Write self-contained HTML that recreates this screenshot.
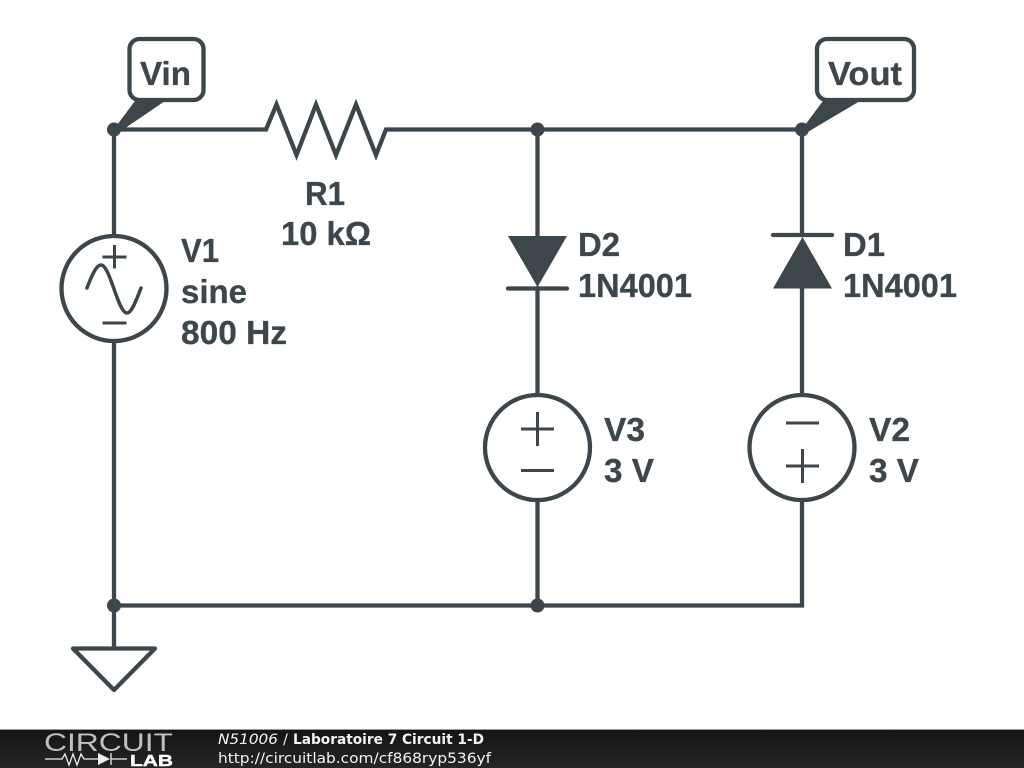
<!DOCTYPE html>
<html><head><meta charset="utf-8"><style>
html,body{margin:0;padding:0;background:#fff}
svg{display:block}
.t{font-family:"Liberation Sans",Arial,sans-serif;font-weight:bold;font-size:33px;fill:#3d464b;stroke:#3d464b;stroke-width:.3px}
.f{font-family:"DejaVu Sans",sans-serif;font-size:14.500px;fill:#f4f4f4}
</style></head><body>
<svg width="1024" height="768" viewBox="0 0 1024 768" xmlns="http://www.w3.org/2000/svg">
<defs><linearGradient id="g" x1="0" y1="0" x2="0" y2="1"><stop offset="0" stop-color="#141414"/><stop offset="1" stop-color="#262626"/></linearGradient></defs>
<rect width="1024" height="768" fill="#fff"/>
<g fill="none" stroke="#3d464b" stroke-width="4.300" stroke-linecap="round" stroke-linejoin="miter">
<path d="M114 129.500H266L276.500 104.500L296.500 155L316 104.500L336 155L356 104.500L376 155L386 129.500H802"/>
<path d="M114 129.500V234M114 343V647M114 605.500H802V502M537.500 605.500V502M537.500 393V288M537.500 129.500V236M802 129.500V235M802 288V393"/>
<circle cx="114" cy="288.500" r="52.500"/>
<circle cx="537.500" cy="447.500" r="52.500"/>
<circle cx="802" cy="447.500" r="52.500"/>
<path d="M508 288.500H567M773 235H832"/>
<path d="M73 648.500H155L114 690Z" stroke-linejoin="round"/>
<rect x="129.500" y="39" width="74" height="61" rx="10"/>
<rect x="817" y="39" width="97" height="61" rx="10"/>
<path d="M87 288C93 272 97 265 101 265C110 265 118 313 127 313C131 313 135 304 141 288" stroke-width="3.500"/>
<path d="M102.500 257H126.500M114.500 245V268.500M102.500 323H126.500M521 429H554M537.500 412V446M521 470.500H554M786 423H819M786 466H819M802.500 449V483" stroke-width="3" stroke-linecap="butt"/>
</g>
<g fill="#3d464b">
<path d="M508 236H567L537.500 287Z"/>
<path d="M773 288.500H832L802.500 237Z"/>
<path d="M114 129L135 101H165L118 133Z"/>
<path d="M802 129L823 101H860L806 133Z"/>
<circle cx="114" cy="129.500" r="7"/>
<circle cx="537.500" cy="129.500" r="7"/>
<circle cx="802" cy="129.500" r="7"/>
<circle cx="114" cy="605.500" r="7"/>
<circle cx="537.500" cy="605.500" r="7"/>
</g>
<text class="t" x="140" y="85" textLength="51" lengthAdjust="spacingAndGlyphs">Vin</text>
<text class="t" x="828" y="85" textLength="74" lengthAdjust="spacingAndGlyphs">Vout</text>
<text class="t" x="305" y="205" textLength="40" lengthAdjust="spacingAndGlyphs">R1</text>
<text class="t" x="281" y="245" textLength="90" lengthAdjust="spacingAndGlyphs">10 kΩ</text>
<text class="t" x="181" y="262" textLength="38" lengthAdjust="spacingAndGlyphs">V1</text>
<text class="t" x="181" y="303" textLength="66" lengthAdjust="spacingAndGlyphs">sine</text>
<text class="t" x="181" y="344" textLength="106" lengthAdjust="spacingAndGlyphs">800 Hz</text>
<text class="t" x="578" y="256" textLength="42" lengthAdjust="spacingAndGlyphs">D2</text>
<text class="t" x="578" y="297" textLength="114" lengthAdjust="spacingAndGlyphs">1N4001</text>
<text class="t" x="843" y="256" textLength="42" lengthAdjust="spacingAndGlyphs">D1</text>
<text class="t" x="843" y="297" textLength="114" lengthAdjust="spacingAndGlyphs">1N4001</text>
<text class="t" x="604" y="441" textLength="41" lengthAdjust="spacingAndGlyphs">V3</text>
<text class="t" x="604" y="482" textLength="50" lengthAdjust="spacingAndGlyphs">3 V</text>
<text class="t" x="869" y="441" textLength="41" lengthAdjust="spacingAndGlyphs">V2</text>
<text class="t" x="869" y="482" textLength="50" lengthAdjust="spacingAndGlyphs">3 V</text>
<rect x="0" y="729" width="1024" height="39" fill="url(#g)"/>
<rect x="0" y="729" width="1024" height="1" fill="#999"/>
<text x="44" y="751" font-family="'DejaVu Sans ExtraLight','Liberation Sans',sans-serif" font-size="25" fill="#c0c0c0" textLength="129" lengthAdjust="spacingAndGlyphs">CIRCUIT</text>
<path d="M45 759H62L65 754L69 765L73 754L77 765L81 754L84 759H98M111 753V765M111 759H127" fill="none" stroke="#eee" stroke-width="1.300"/>
<path d="M98 753V765L110 759Z" fill="#eee"/>
<text x="130" y="766" font-family="Liberation Sans,sans-serif" font-weight="bold" font-size="15.500" fill="#fff" stroke="#fff" stroke-width=".4" textLength="43" lengthAdjust="spacingAndGlyphs">LAB</text>
<text class="f" x="218" y="744" font-style="italic" textLength="60" lengthAdjust="spacingAndGlyphs">N51006</text>
<text class="f" x="283" y="744">/</text>
<text class="f" x="293" y="744" font-weight="bold" textLength="191" lengthAdjust="spacingAndGlyphs">Laboratoire 7 Circuit 1-D</text>
<text class="f" x="218" y="763" textLength="273" lengthAdjust="spacingAndGlyphs">http://circuitlab.com/cf868ryp536yf</text>
</svg>
</body></html>
